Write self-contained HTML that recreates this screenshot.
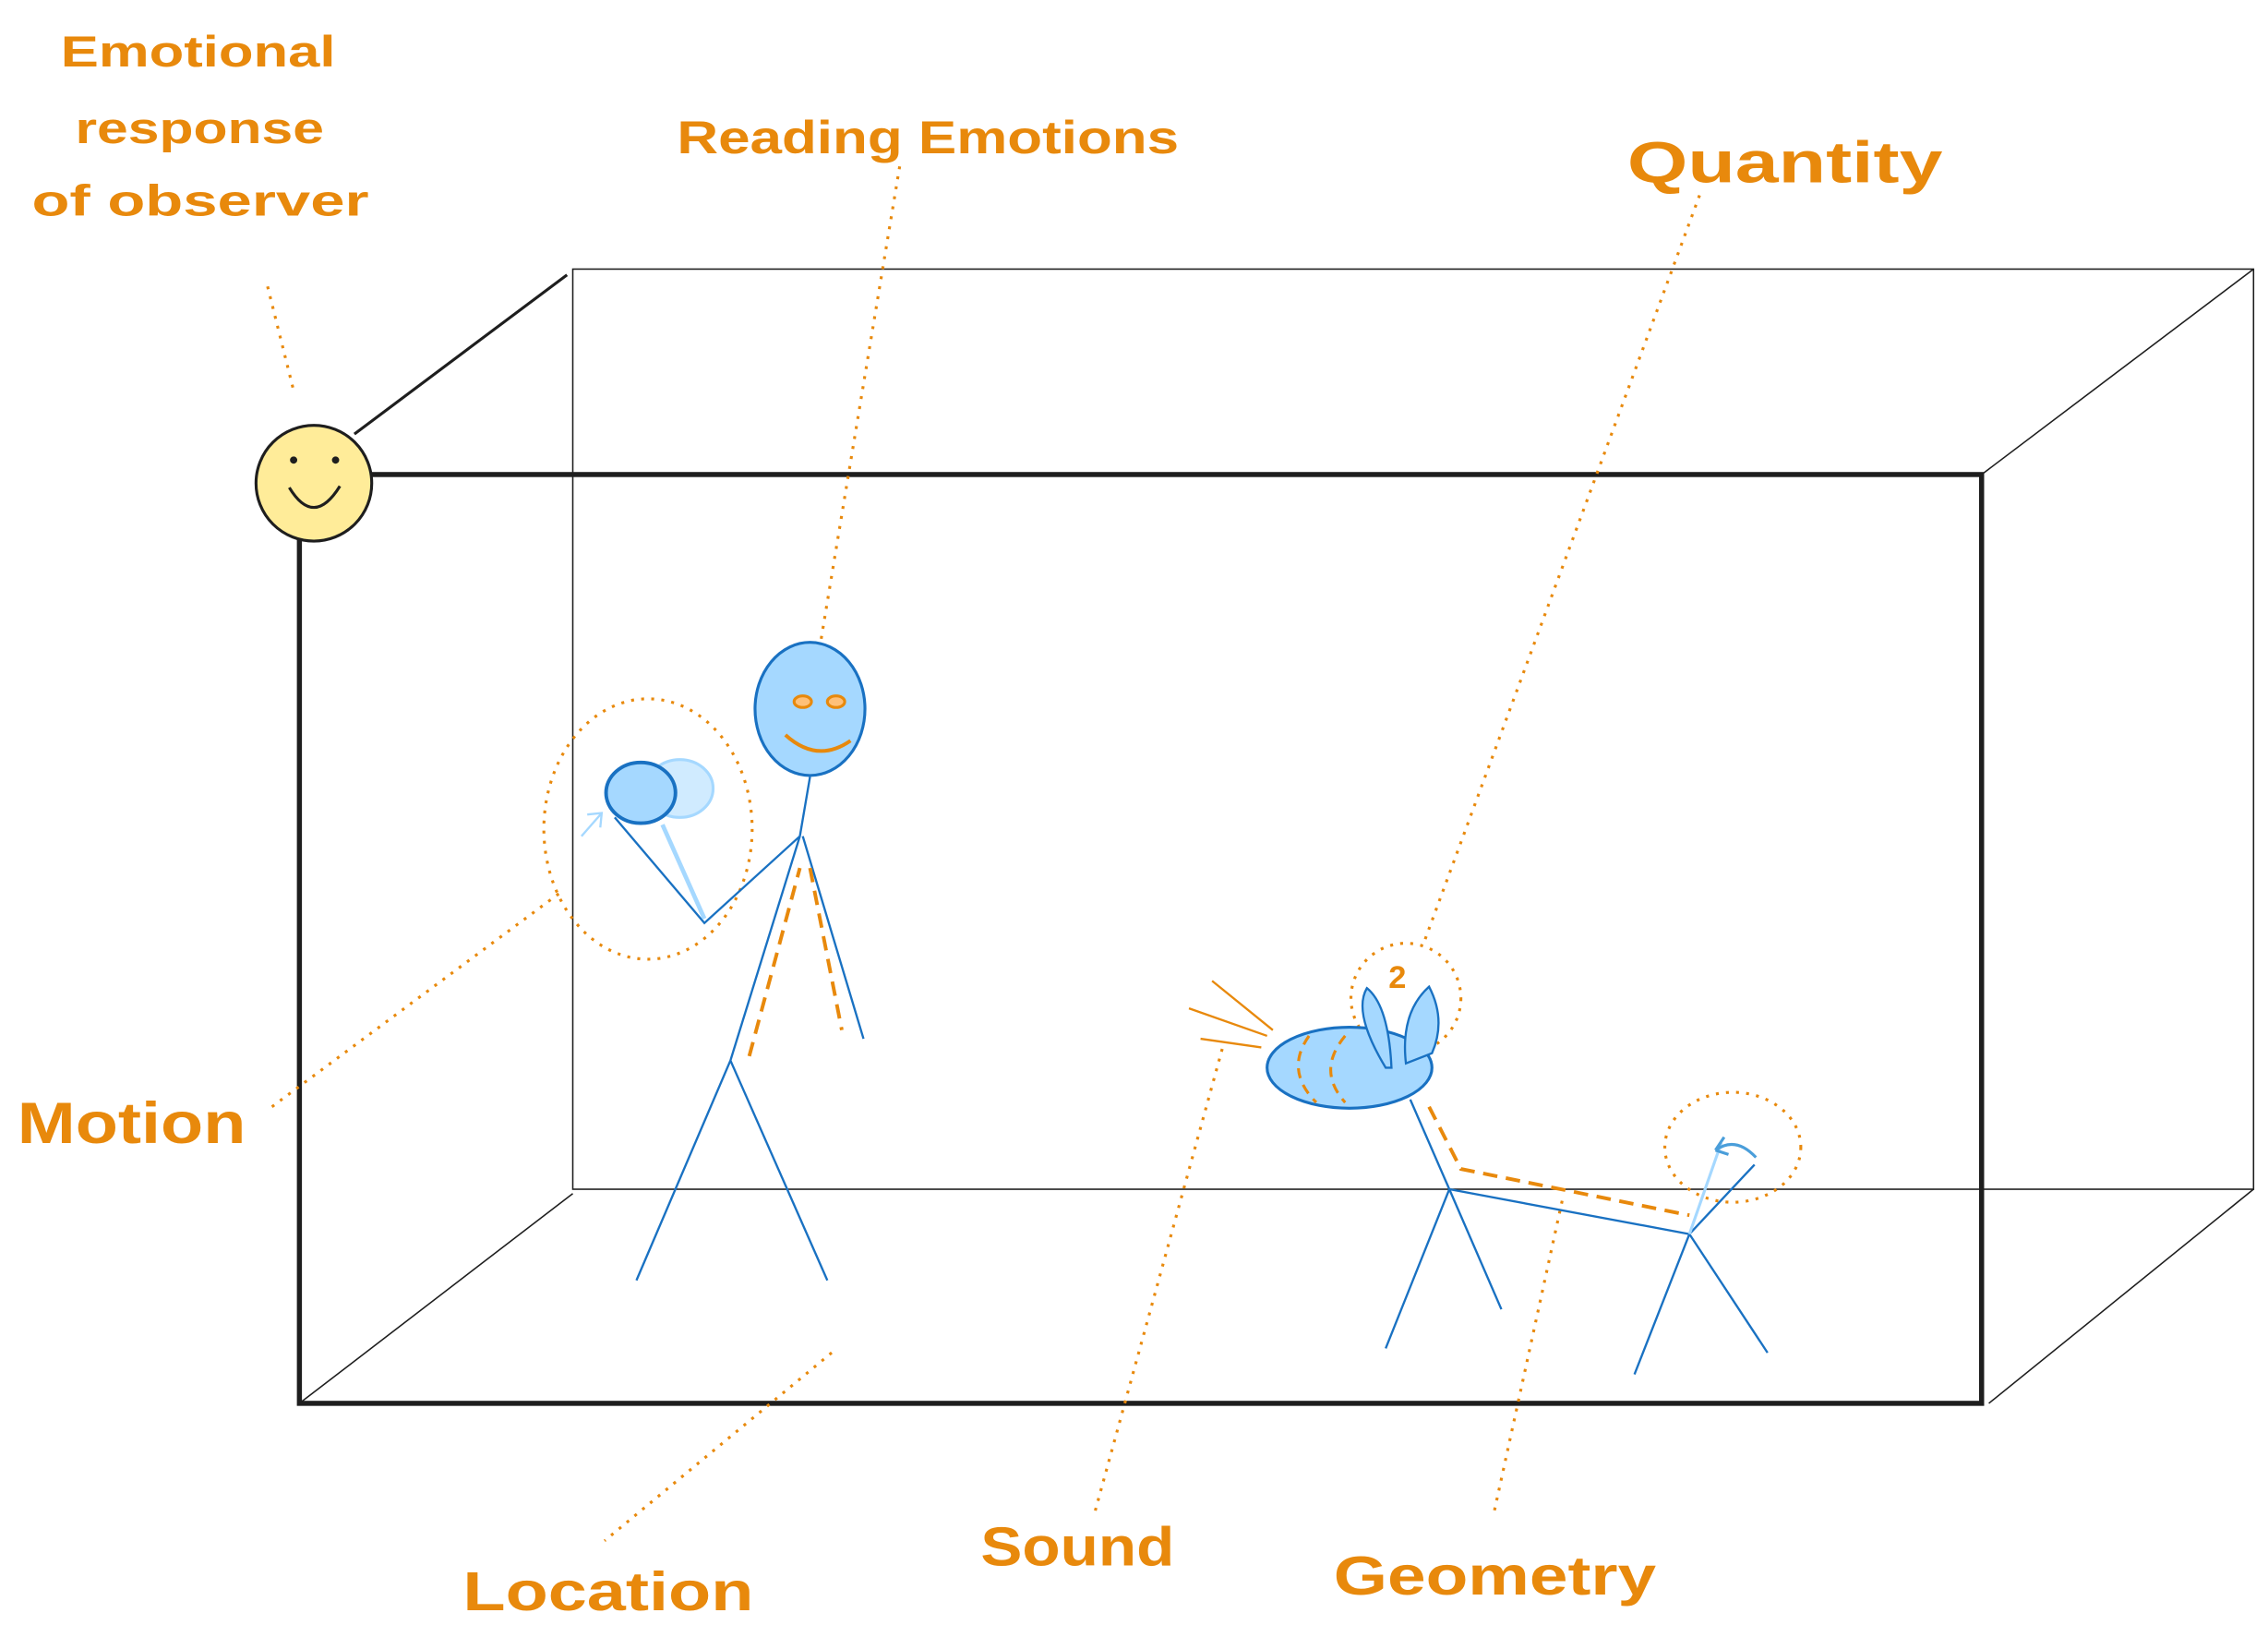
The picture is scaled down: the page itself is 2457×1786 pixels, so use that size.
<!DOCTYPE html>
<html><head><meta charset="utf-8"><style>
html,body{margin:0;padding:0;background:#fff;}
svg{display:block;}
text{font-family:"Liberation Sans",sans-serif;fill:#e8890c;font-weight:bold;}
</style></head><body>
<svg width="2457" height="1786" viewBox="0 0 1568 1139.8" preserveAspectRatio="none" xmlns="http://www.w3.org/2000/svg">
<g fill="none" stroke="#1e1e1e">
<rect x="396" y="186" width="1162" height="636" stroke-width="1"/>
<line x1="245" y1="300" x2="392" y2="190" stroke-width="2"/>
<line x1="1370" y1="328" x2="1558" y2="186" stroke-width="1"/>
<line x1="207" y1="970" x2="396" y2="825" stroke-width="1"/>
<line x1="1375" y1="970" x2="1558" y2="822" stroke-width="1"/>
<rect x="207" y="328" width="1163" height="642" stroke-width="3.5"/>
</g>
<circle cx="217" cy="334" r="40" fill="#ffec99" stroke="#1e1e1e" stroke-width="2"/>
<circle cx="203" cy="318" r="2.5" fill="#1e1e1e"/><circle cx="232" cy="318" r="2.5" fill="#1e1e1e"/>
<path d="M200 337 Q217 365 235 336" fill="none" stroke="#1e1e1e" stroke-width="2"/>
<g stroke="#e8890c" stroke-width="2" stroke-dasharray="2 5" fill="none">
<line x1="185" y1="198" x2="203" y2="270"/>
<line x1="622" y1="115" x2="566" y2="452"/>
<line x1="1175" y1="135" x2="985" y2="650"/>
<line x1="188" y1="765" x2="390" y2="615"/>
<line x1="575" y1="935" x2="418" y2="1065"/>
<line x1="845" y1="725" x2="757" y2="1045"/>
<line x1="1080" y1="830" x2="1033" y2="1045"/>
<ellipse cx="448" cy="573" rx="72" ry="90"/>
<circle cx="972" cy="690" r="38"/>
<ellipse cx="1198" cy="793" rx="47" ry="38"/>
</g>
<g stroke="#1971c2" stroke-width="1.5" fill="none">
<line x1="560" y1="537" x2="553" y2="578"/>
<line x1="553" y1="578" x2="505" y2="733"/>
<line x1="555" y1="578" x2="597" y2="718"/>
<line x1="505" y1="733" x2="440" y2="885"/>
<line x1="505" y1="733" x2="572" y2="885"/>
<polyline points="553,578 487,638 425,565"/>
</g>
<line x1="458" y1="570" x2="487" y2="635" stroke="#a5d8ff" stroke-width="3"/>
<ellipse cx="470" cy="545" rx="23" ry="20" fill="#d0ebff" stroke="#a5d8ff" stroke-width="2"/>
<ellipse cx="443" cy="548" rx="24" ry="21" fill="#a5d8ff" stroke="#1971c2" stroke-width="2.5"/>
<path d="M402 578 L416 562 M406 563 L416 562 L415 572" stroke="#a5d8ff" stroke-width="1.5" fill="none"/>
<ellipse cx="560" cy="490" rx="38" ry="46" fill="#a5d8ff" stroke="#1971c2" stroke-width="2"/>
<ellipse cx="555" cy="485" rx="6" ry="4" fill="#ffc078" stroke="#e8890c" stroke-width="2"/>
<ellipse cx="578" cy="485" rx="6" ry="4" fill="#ffc078" stroke="#e8890c" stroke-width="2"/>
<path d="M543 508 Q565 528 588 512" fill="none" stroke="#e8890c" stroke-width="2.5"/>
<g stroke="#e8890c" stroke-width="2.5" stroke-dasharray="10 6" fill="none">
<line x1="518" y1="730" x2="553" y2="600"/>
<line x1="560" y1="600" x2="582" y2="712"/>
<polyline points="988,765 1010,808 1168,840"/>
</g>
<g stroke="#1971c2" stroke-width="1.5" fill="none">
<line x1="975" y1="760" x2="1002" y2="822"/>
<line x1="1002" y1="822" x2="958" y2="932"/>
<line x1="1002" y1="822" x2="1038" y2="905"/>
<line x1="1002" y1="822" x2="1168" y2="853"/>
<line x1="1168" y1="853" x2="1130" y2="950"/>
<line x1="1168" y1="853" x2="1222" y2="935"/>
<line x1="1168" y1="853" x2="1213" y2="805"/>
</g>
<line x1="1168" y1="853" x2="1190" y2="790" stroke="#a5d8ff" stroke-width="2"/>
<path d="M1186 795 Q1200 785 1214 800 M1186 795 L1192 786 M1186 795 L1195 798" stroke="#4a9eda" stroke-width="2" fill="none"/>
<g stroke="#e8890c" stroke-width="1.5"><line x1="838" y1="678" x2="880" y2="712"/><line x1="822" y1="697" x2="876" y2="716"/><line x1="830" y1="718" x2="872" y2="724"/></g>
<ellipse cx="933" cy="738" rx="57" ry="28" fill="#a5d8ff" stroke="#1971c2" stroke-width="2"/>
<path d="M905 716 Q888 740 910 762 M930 716 Q910 740 930 762" stroke="#e8890c" stroke-width="2" stroke-dasharray="7 5" fill="none"/>
<path d="M958 738 Q935 700 945 683 Q960 695 962 738 Z" fill="#a5d8ff" stroke="#1971c2" stroke-width="1.5"/>
<path d="M972 735 Q968 700 988 682 Q1000 705 990 728 Z" fill="#a5d8ff" stroke="#1971c2" stroke-width="1.5"/>
<text x="960" y="683" font-size="22">2</text>
<text x="42" y="46" font-size="30" textLength="190" lengthAdjust="spacingAndGlyphs">Emotional</text>
<text x="52" y="99" font-size="30" textLength="172" lengthAdjust="spacingAndGlyphs">response</text>
<text x="22" y="149" font-size="30" textLength="233" lengthAdjust="spacingAndGlyphs">of observer</text>
<text x="468" y="106" font-size="32" textLength="347" lengthAdjust="spacingAndGlyphs">Reading Emotions</text>
<text x="1125" y="126" font-size="40" textLength="218" lengthAdjust="spacingAndGlyphs">Quantity</text>
<text x="12" y="790" font-size="40" textLength="158" lengthAdjust="spacingAndGlyphs">Motion</text>
<text x="320" y="1113" font-size="38" textLength="201" lengthAdjust="spacingAndGlyphs">Location</text>
<text x="678" y="1082" font-size="38" textLength="134" lengthAdjust="spacingAndGlyphs">Sound</text>
<text x="922" y="1102" font-size="38" textLength="223" lengthAdjust="spacingAndGlyphs">Geometry</text>
</svg>
</body></html>
